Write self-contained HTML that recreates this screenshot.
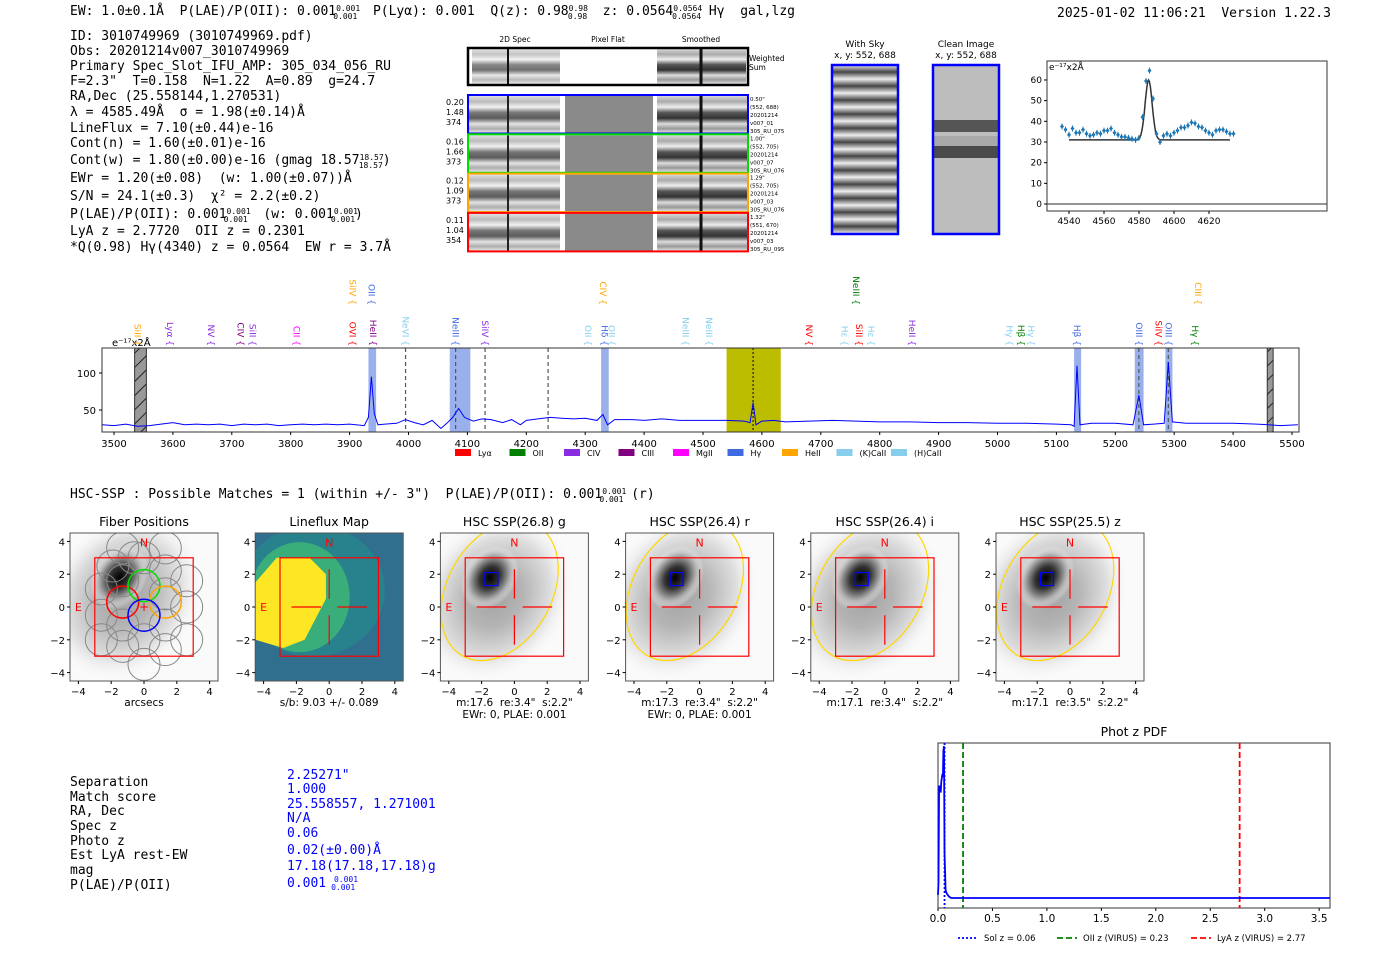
<!DOCTYPE html>
<html><head><meta charset="utf-8"><style>
body{margin:0;background:#fff;width:1400px;height:953px;overflow:hidden}
svg{display:block}
text{white-space:pre}
.mono{font-family:"DejaVu Sans Mono","Liberation Mono",monospace;font-size:13px;fill:#000}
.sans{font-family:"DejaVu Sans","Liberation Sans",sans-serif;fill:#000}
.tk{font-family:"DejaVu Sans","Liberation Sans",sans-serif;font-size:10px;fill:#000}
.bl{fill:#0000ff}
</style></head><body>
<svg id="root" width="1400" height="953" viewBox="0 0 1400 953">
<defs>
<linearGradient id="stripes" x1="0" y1="0" x2="0" y2="1">
<stop offset="0" stop-color="#d8d8d8"/><stop offset="0.15" stop-color="#aaa"/><stop offset="0.3" stop-color="#eee"/><stop offset="0.45" stop-color="#555"/><stop offset="0.6" stop-color="#333"/><stop offset="0.75" stop-color="#ddd"/><stop offset="0.88" stop-color="#999"/><stop offset="1" stop-color="#e6e6e6"/>
</linearGradient>
<linearGradient id="sky" x1="0" y1="0" x2="0" y2="1" spreadMethod="repeat" gradientTransform="scale(1,0.083)">
<stop offset="0" stop-color="#eee"/><stop offset="0.5" stop-color="#444"/><stop offset="1" stop-color="#eee"/>
</linearGradient>
<radialGradient id="gal" cx="0.5" cy="0.5" r="0.5"><stop offset="0" stop-color="#000"/><stop offset="0.35" stop-color="#333"/><stop offset="0.7" stop-color="#aaa"/><stop offset="1" stop-color="#fff" stop-opacity="0"/></radialGradient>
<pattern id="hatch" width="10" height="10" patternUnits="userSpaceOnUse" patternTransform="rotate(-45)"><rect width="10" height="10" fill="#999"/><line x1="0" y1="5" x2="10" y2="5" stroke="#222" stroke-width="1"/></pattern>
</defs>

<g>
<text class="mono" x="70" y="15">EW: 1.0±0.1Å  P(LAE)/P(OII): 0.001<tspan font-size="8" dy="-4">0.001</tspan><tspan font-size="8" dx="-27" dy="8">0.001</tspan><tspan dy="-4">  P(Lyα): 0.001  Q(z): 0.98</tspan><tspan font-size="8" dy="-4">0.98</tspan><tspan font-size="8" dx="-20" dy="8">0.98</tspan><tspan dy="-4">  z: 0.0564</tspan><tspan font-size="8" dy="-4">0.0564</tspan><tspan font-size="8" dx="-30" dy="8">0.0564</tspan><tspan dy="-4"> Hγ  gal,lzg</tspan></text>
<text class="mono" x="1057" y="17">2025-01-02 11:06:21  Version 1.22.3</text>
</g>

<g>
<text class="mono" x="70" y="40">ID: 3010749969 (3010749969.pdf)</text>
<text class="mono" x="70" y="55">Obs: 20201214v007_3010749969</text>
<text class="mono" x="70" y="70">Primary Spec_Slot_IFU_AMP: 305_034_056_RU</text>
<text class="mono" x="70" y="85">F=2.3"  T=0.158  N=1.22  A=0.89  g=24.7</text>
<text class="mono" x="70" y="100">RA,Dec (25.558144,1.270531)</text>
<text class="mono" x="70" y="116">λ = 4585.49Å  σ = 1.98(±0.14)Å</text>
<text class="mono" x="70" y="132">LineFlux = 7.10(±0.44)e-16</text>
<text class="mono" x="70" y="147">Cont(n) = 1.60(±0.01)e-16</text>
<text class="mono" x="70" y="164">Cont(w) = 1.80(±0.00)e-16 (gmag 18.57<tspan font-size="8" dy="-4">18.57</tspan><tspan font-size="8" dx="-25" dy="8">18.57</tspan><tspan dy="-4">)</tspan></text>
<text class="mono" x="70" y="182">EWr = 1.20(±0.08)  (w: 1.00(±0.07))Å</text>
<text class="mono" x="70" y="200">S/N = 24.1(±0.3)  χ² = 2.2(±0.2)</text>
<text class="mono" x="70" y="218">P(LAE)/P(OII): 0.001<tspan font-size="8" dy="-4">0.001</tspan><tspan font-size="8" dx="-27" dy="8">0.001</tspan><tspan dy="-4">  (w: 0.001</tspan><tspan font-size="8" dy="-4">0.001</tspan><tspan font-size="8" dx="-27" dy="8">0.001</tspan><tspan dy="-4">)</tspan></text>
<text class="mono" x="70" y="235">LyA z = 2.7720  OII z = 0.2301</text>
<text class="mono" x="70" y="251">*Q(0.98) Hγ(4340) z = 0.0564  EW r = 3.7Å</text>
</g>

<g id="spec2d">
<text class="sans" style="font-size:7.5px" x="515" y="42" text-anchor="middle">2D Spec</text>
<text class="sans" style="font-size:7.5px" x="608" y="42" text-anchor="middle">Pixel Flat</text>
<text class="sans" style="font-size:7.5px" x="701" y="42" text-anchor="middle">Smoothed</text>
<rect x="472" y="49" width="88" height="35" fill="url(#stripes)" opacity="0.7"/>
<rect x="657" y="49" width="89" height="35" fill="url(#stripes)"/>
<line x1="508" y1="49" x2="508" y2="84" stroke="#111" stroke-width="2"/>
<line x1="701" y1="49" x2="701" y2="84" stroke="#111" stroke-width="3"/>
<rect x="468" y="48" width="280" height="37" fill="none" stroke="#000" stroke-width="2.5"/>
<text class="sans" style="font-size:7.5px" x="749" y="61">Weighted</text><text class="sans" style="font-size:7.5px" x="749" y="70">Sum</text>
</g>

<g>
<text class="sans" style="font-size:9px" x="865" y="47" text-anchor="middle">With Sky</text>
<text class="sans" style="font-size:9px" x="865" y="58" text-anchor="middle">x, y: 552, 688</text>
<rect x="832" y="65" width="66" height="169" fill="url(#sky)"/>
<rect x="832" y="65" width="66" height="169" fill="none" stroke="#0000ff" stroke-width="2.5"/>
</g>
<g>
<text class="sans" style="font-size:9px" x="966" y="47" text-anchor="middle">Clean Image</text>
<text class="sans" style="font-size:9px" x="966" y="58" text-anchor="middle">x, y: 552, 688</text>
<rect x="933" y="65" width="66" height="169" fill="#bdbdbd"/>
<rect x="933" y="120" width="66" height="12" fill="#555"/>
<rect x="933" y="136" width="66" height="10" fill="#a8a8a8"/>
<rect x="933" y="146" width="66" height="12" fill="#4a4a4a"/>
<rect x="933" y="65" width="66" height="169" fill="none" stroke="#0000ff" stroke-width="2.5"/>
</g>

<g id="zoomplot"></g>
<g id="specplot"></g>

<text class="mono" x="70" y="498">HSC-SSP : Possible Matches = 1 (within +/- 3")  P(LAE)/P(OII): 0.001<tspan font-size="8" dy="-4">0.001</tspan><tspan font-size="8" dx="-27" dy="8">0.001</tspan><tspan dy="-4"> (r)</tspan></text>

<g id="cutouts"></g>

<g>
<text class="mono" x="70" y="786">Separation</text><text class="mono bl" x="287" y="779">2.25271"</text>
<text class="mono" x="70" y="801">Match score</text><text class="mono bl" x="287" y="793">1.000</text>
<text class="mono" x="70" y="815">RA, Dec</text><text class="mono bl" x="287" y="808">25.558557, 1.271001</text>
<text class="mono" x="70" y="830">Spec z</text><text class="mono bl" x="287" y="822">N/A</text>
<text class="mono" x="70" y="845">Photo z</text><text class="mono bl" x="287" y="837">0.06</text>
<text class="mono" x="70" y="859">Est LyA rest-EW</text><text class="mono bl" x="287" y="854">0.02(±0.00)Å</text>
<text class="mono" x="70" y="874">mag</text><text class="mono bl" x="287" y="870">17.18(17.18,17.18)g</text>
<text class="mono" x="70" y="889">P(LAE)/P(OII)</text><text class="mono bl" x="287" y="887">0.001 <tspan font-size="8" dy="-5">0.001</tspan><tspan font-size="8" dx="-27" dy="8">0.001</tspan></text>
</g>

<g id="photz"></g>
</svg>

<script>
// ---------- line-fit plot data ----------
const fitWave = [4536,4538,4540,4542,4544,4546,4548,4550,4552,4554,4556,4558,4560,4562,4564,4566,4568,4570,4572,4574,4576,4578,4580,4582,4584,4586,4588,4590,4592,4594,4596,4598,4600,4602,4604,4606,4608,4610,4612,4614,4616,4618,4620,4622,4624,4626,4628,4630,4632,4634];
const fitFlux = [37.5,36,33.5,36.5,34.5,34.5,36,34,33,33.5,34.5,34,35.5,35.5,36.5,34.5,33.5,32.5,32.5,32,31.5,31,32,42,59.5,64.5,51,34,30,33,34,33,34.5,35.5,37,37,38,39.5,39,37.5,37,35.5,34.5,33.5,35.5,36,36,35,34,34];
const fitTicksX = [4540,4560,4580,4600,4620];
const fitTicksY = [0,10,20,30,40,50,60];
const fitModel = {center:4585.5, sigma:2.0, amp:29, base:31, start:4540, end:4632};

// ---------- spectrum data ----------
const specWave = [3480,3500,3520,3540,3560,3580,3600,3620,3640,3660,3680,3700,3720,3740,3760,3780,3800,3820,3840,3860,3880,3900,3925,3932,3937,3942,3948,3960,3980,3995,4010,4025,4040,4055,4065,4075,4085,4095,4110,4125,4140,4160,4175,4190,4200,4220,4240,4260,4280,4300,4320,4330,4338,4350,4380,4400,4430,4460,4500,4540,4570,4580,4585,4590,4600,4620,4640,4680,4720,4760,4800,4850,4900,4950,5000,5050,5100,5125,5130,5135,5140,5160,5200,5230,5240,5248,5265,5283,5290,5297,5320,5360,5400,5440,5460,5480,5510];
const specFlux = [30,29,31,28,29,31,33,30,31,30,31,29,31,30,31,29,30,31,30,31,30,31,29,40,95,45,30,31,32,37,33,30,36,25,32,40,52,40,35,38,37,33,37,30,36,38,40,39,38,39,36,44,30,37,37,36,38,36,36,36,35,33,60,30,35,36,34,35,36,35,34,34,33,33,32,32,31,30,28,110,30,32,32,30,70,30,31,32,115,34,32,32,32,31,30,29,30];
const specTicksX = [3500,3600,3700,3800,3900,4000,4100,4200,4300,4400,4500,4600,4700,4800,4900,5000,5100,5200,5300,5400,5500];
const specTicksY = [50,100];
const blueBands = [[3932,3945],[4070,4105],[4327,4340],[5130,5142],[5233,5248],[5285,5297]];
const greyBands = [[3535,3555],[5458,5468]];
const dashLines = [3995,4080,4130,4237,5240,5290];
const lineLabels = [["SiII",3540,"#ffa500",0],["Lyα",3595,"#8a2be2",0],["NV",3665,"#8a2be2",0],["CIV",3715,"#800080",0],["SiII",3735,"#8a2be2",0],["CII",3810,"#ff00ff",0],["OVI",3905,"#ff0000",0],["HeII",3940,"#800080",0],["NeVI",3995,"#87ceeb",0],["NeIII",4080,"#4169e1",0],["SiIV",4130,"#8a2be2",0],["OII",4305,"#87ceeb",0],["Hδ",4333,"#4169e1",0],["OII",4345,"#87ceeb",0],["NeIII",4470,"#87ceeb",0],["NeIII",4510,"#87ceeb",0],["NV",4680,"#ff0000",0],["Hε",4740,"#87ceeb",0],["SiII",4765,"#ff0000",0],["Hε",4785,"#87ceeb",0],["HeII",4855,"#8a2be2",0],["Hγ",5020,"#87ceeb",0],["Hβ",5040,"#008000",0],["Hγ",5057,"#87ceeb",0],["Hβ",5135,"#4169e1",0],["OIII",5240,"#4169e1",0],["SiIV",5273,"#ff0000",0],["OIII",5290,"#4169e1",0],["Hγ",5335,"#008000",0],["SiIV",3905,"#ffa500",1],["OII",3937,"#4169e1",1],["CIV",4330,"#ffa500",1],["NeIII",4760,"#008000",1],["CIII",5340,"#ffa500",1]];
const legendNames = ["Lyα","OII","CIV","CIII","MgII","Hγ","HeII","(K)CaII","(H)CaII"];
const legendColors = ["#ff0000","#008000","#8a2be2","#800080","#ff00ff","#4169e1","#ffa500","#87ceeb","#87ceeb"];

// ---------- phot z data ----------
const pzZ = [0.0,0.005,0.01,0.02,0.025,0.03,0.04,0.045,0.05,0.055,0.06,0.07,0.08,0.1,0.12,0.15,0.2,0.5,1,2,3,3.6];
const pzP = [0.02,0.1,0.72,0.72,0.68,0.75,0.8,0.78,0.95,0.98,0.3,0.05,0.03,0.01,0.0,0.0,0.0,0.0,0.0,0.0,0.0,0.0];
const pzTicks = [0.0,0.5,1.0,1.5,2.0,2.5,3.0,3.5];
const pzMarkers = [["Sol z = 0.06",0.06,"#0000ff","2,2"],["OII z (VIRUS) = 0.23",0.23,"#008000","6,3"],["LyA z (VIRUS) = 2.77",2.77,"#ff0000","6,3"]];

const NS="http://www.w3.org/2000/svg";
function mk(parent,tag,attrs,txt){const e=document.createElementNS(NS,tag);let st='';for(const k in attrs){if(k==='font-size'){st+='font-size:'+attrs[k]+'px;';}else if(k==='style'){st+=attrs[k]+';';}else e.setAttribute(k,attrs[k]);}if(st)e.setAttribute('style',st);if(txt!==undefined)e.textContent=txt;parent.appendChild(e);return e;}

// ===== line-fit plot =====
(function(){
const g=document.getElementById('zoomplot');
const L=1047,R=1327,T=61,B=211;
const xs=w=>1069+(w-4540)*1.75;
const ys=v=>204-v*2.067;
mk(g,'rect',{x:L,y:T,width:R-L,height:B-T,fill:'#fff',stroke:'#333','stroke-width':1});
mk(g,'line',{x1:L,x2:R,y1:ys(0),y2:ys(0),stroke:'#555','stroke-width':1.2});
fitTicksX.forEach(t=>{mk(g,'line',{x1:xs(t),x2:xs(t),y1:B,y2:B+3,stroke:'#000'});const e=mk(g,'text',{x:xs(t),y:B+13,'text-anchor':'middle',class:'tk','font-size':9},t);

});
fitTicksY.forEach(t=>{mk(g,'line',{x1:L-3,x2:L,y1:ys(t),y2:ys(t),stroke:'#000'});const e=mk(g,'text',{x:L-5,y:ys(t)+3,'text-anchor':'end',class:'tk','font-size':9},t);

});
mk(g,'text',{x:L+2,y:T+9,class:'tk','font-size':9},'e⁻¹⁷x2Å');
let d='';for(let w=fitModel.start;w<=fitModel.end;w+=0.5){const v=fitModel.base+fitModel.amp*Math.exp(-0.5*((w-fitModel.center)/fitModel.sigma)**2);d+=(d?'L':'M')+xs(w).toFixed(1)+','+ys(v).toFixed(1);}
const m=mk(g,'path',{d:d,fill:'none',stroke:'#333','stroke-width':1.5});


fitWave.forEach((w,i)=>{const x=xs(w),y=ys(fitFlux[i]);
mk(g,'line',{x1:x,x2:x,y1:y-3,y2:y+3,stroke:'#1f77b4','stroke-width':1});
const p=mk(g,'path',{d:`M${x},${y-2.5}L${x+2},${y}L${x},${y+2.5}L${x-2},${y}Z`,fill:'#1f77b4'});

});
})();

// ===== spectrum =====
(function(){
const g=document.getElementById('specplot');
const L=102,R=1299,T=348,B=432;
const xs=w=>114+(w-3500)*0.589;
const ys=v=>B-(v-20.3)*0.74;
mk(g,'rect',{x:L,y:T,width:R-L,height:B-T,fill:'#fff'});
mk(g,'rect',{x:xs(4540),y:T,width:xs(4632)-xs(4540),height:B-T,fill:'#bdbd00'});
blueBands.forEach(b=>{const r=mk(g,'rect',{x:xs(b[0]),y:T,width:xs(b[1])-xs(b[0]),height:B-T,fill:'#6f8fe6',opacity:0.7});

});
greyBands.forEach(b=>{const r=mk(g,'rect',{x:xs(b[0]),y:T,width:xs(b[1])-xs(b[0]),height:B-T,fill:'url(#hatch)',stroke:'#333'});

});
dashLines.forEach(w=>mk(g,'line',{x1:xs(w),x2:xs(w),y1:T,y2:B,stroke:'#555','stroke-dasharray':'4,3','stroke-width':1.2}));
mk(g,'line',{x1:xs(4585),x2:xs(4585),y1:T,y2:B,stroke:'#000','stroke-dasharray':'2,2','stroke-width':1});
let d='';specWave.forEach((w,i)=>{d+=(i?'L':'M')+xs(w).toFixed(1)+','+ys(specFlux[i]).toFixed(1);});
const p=mk(g,'path',{d:d,fill:'none',stroke:'#0000ff','stroke-width':1});


mk(g,'rect',{x:L,y:T,width:R-L,height:B-T,fill:'none',stroke:'#333','stroke-width':1});
specTicksX.forEach(t=>{mk(g,'line',{x1:xs(t),x2:xs(t),y1:B,y2:B+3,stroke:'#000'});const e=mk(g,'text',{x:xs(t),y:B+15,'text-anchor':'middle',class:'tk'},t);

});
specTicksY.forEach(t=>{mk(g,'line',{x1:L-3,x2:L,y1:ys(t),y2:ys(t),stroke:'#000'});const e=mk(g,'text',{x:L-6,y:ys(t)+4,'text-anchor':'end',class:'tk'},t);

});
mk(g,'text',{x:112,y:346,class:'tk'},'e⁻¹⁷x2Å');
lineLabels.forEach(l=>{const x=xs(l[1]);const yb=l[3]?305:346;
const t=mk(g,'text',{x:0,y:0,transform:`translate(${x-3},${yb}) rotate(90)`,'text-anchor':'end',class:'tk','font-size':9,style:`fill:${l[2]}`},l[0]+' {');

});
legendNames.forEach((n,i)=>{const x=455+i*54.5;
const s=mk(g,'rect',{x:x,y:449,width:16,height:7,fill:legendColors[i]});


mk(g,'text',{x:x+23,y:456,class:'tk','font-size':8},n);});
})();

// ===== cutouts =====
(function(){
const g=document.getElementById('cutouts');
const titles=["Fiber Positions","Lineflux Map","HSC SSP(26.8) g","HSC SSP(26.4) r","HSC SSP(26.4) i","HSC SSP(25.5) z"];
const sub1=["arcsecs","s/b: 9.03 +/- 0.089","m:17.6  re:3.4\"  s:2.2\"","m:17.3  re:3.4\"  s:2.2\"","m:17.1  re:3.4\"  s:2.2\"","m:17.1  re:3.5\"  s:2.2\""];
const sub2=["","","EWr: 0, PLAE: 0.001","EWr: 0, PLAE: 0.001","",""];
const ticks=[-4,-2,0,2,4];
const fibers=[[-1.3,3.6],[0,3.0],[1.3,3.6],[-1.9,2.5],[-0.6,3.0],[1.3,2.2],[-2.6,1.1],[2.6,1.6],[-2.6,-0.5],[2.6,0],[-1.3,-1.1],[1.3,-1.1],[-2.6,-2.0],[-1.3,-2.4],[0,-2.0],[1.3,-2.6],[2.6,-2.0],[0,-3.5],[-1.3,1.6],[1.3,0.8]];
for(let p=0;p<6;p++){
const L=70+p*185.2,T=533,S=148;
const xs=v=>L+S/2+v*16.4, ys=v=>T+S/2-v*16.4;
const pg=mk(g,'g',{});


const cid='clip'+p;const cp=mk(pg,'clipPath',{id:cid});mk(cp,'rect',{x:L,y:T,width:S,height:S});
const ig=mk(pg,'g',{'clip-path':`url(#${cid})`});
if(p==1){
mk(ig,'rect',{x:L,y:T,width:S,height:S,fill:'#30708e'});
mk(ig,'ellipse',{cx:xs(-1),cy:ys(1),rx:72,ry:66,fill:'#27848e',opacity:0.9});
mk(ig,'ellipse',{cx:xs(-1.8),cy:ys(0.6),rx:50,ry:55,fill:'#3aae7a'});
mk(ig,'polygon',{points:[[-4.5,1.5],[-3.2,3.0],[-1.2,3.0],[-0.2,2.0],[-0.2,0.5],[-1.5,-2.0],[-2.8,-2.5],[-4.5,-2.0]].map(q=>xs(q[0])+','+ys(q[1])).join(' '),fill:'#fde725'});
} else {
mk(ig,'rect',{x:L,y:T,width:S,height:S,fill:'#fafafa'});
mk(ig,'ellipse',{cx:xs(-1.2),cy:ys(0.6),rx:75,ry:90,fill:'url(#gal)',opacity:0.35,transform:`rotate(35 ${xs(-1.2)} ${ys(0.6)})`});
mk(ig,'ellipse',{cx:xs(-1.5),cy:ys(1.8),rx:26,ry:34,fill:'url(#gal)',transform:`rotate(35 ${xs(-1.5)} ${ys(1.8)})`});
}
if(p==0){
fibers.forEach(f=>mk(ig,'circle',{cx:xs(f[0]),cy:ys(f[1]),r:16,fill:'none',stroke:'#888','stroke-width':1}));
[[-1.3,0.3,'#ff0000'],[0,1.3,'#00dd00'],[1.3,0.3,'#ffa500'],[0,-0.5,'#0000ff']].forEach(f=>mk(ig,'circle',{cx:xs(f[0]),cy:ys(f[1]),r:16,fill:'none',stroke:f[2],'stroke-width':1.5}));
mk(ig,'text',{x:xs(0),y:ys(0)+4,'text-anchor':'middle',class:'tk','font-size':12,style:'fill:#f00'},'+');
}
if(p>=2){
mk(ig,'ellipse',{cx:xs(-0.9),cy:ys(1.0),rx:52,ry:75,fill:'none',stroke:'#ffd700','stroke-width':1.2,transform:`rotate(30 ${xs(-0.9)} ${ys(1.0)})`});
mk(ig,'rect',{x:xs(-1.8),y:ys(2.1),width:13,height:13,fill:'none',stroke:'#0000ff','stroke-width':1.2});
}
mk(ig,'rect',{x:xs(-3),y:ys(3),width:6*16.4,height:6*16.4,fill:'none',stroke:'#ff0000','stroke-width':1.2});
if(p>=1){[[-2.3,0,-0.5,0],[0.5,0,2.3,0],[0,2.3,0,0.5],[0,-0.5,0,-2.3]].forEach(c=>mk(ig,'line',{x1:xs(c[0]),y1:ys(c[1]),x2:xs(c[2]),y2:ys(c[3]),stroke:'#ff0000','stroke-width':1.2}));}
mk(ig,'text',{x:xs(0),y:ys(4)+5,'text-anchor':'middle',class:'tk','font-size':11,style:'fill:#f00'},'N');
mk(ig,'text',{x:xs(-4),y:ys(0)+4,'text-anchor':'middle',class:'tk','font-size':11,style:'fill:#f00'},'E');
mk(pg,'rect',{x:L,y:T,width:S,height:S,fill:'none',stroke:'#555','stroke-width':1});
ticks.forEach(t=>{mk(pg,'line',{x1:xs(t),x2:xs(t),y1:T+S,y2:T+S+3,stroke:'#000'});mk(pg,'text',{x:xs(t),y:T+S+14,'text-anchor':'middle',class:'tk'},t<0?'−'+(-t):t);
mk(pg,'line',{x1:L-3,x2:L,y1:ys(t),y2:ys(t),stroke:'#000'});mk(pg,'text',{x:L-5,y:ys(t)+4,'text-anchor':'end',class:'tk'},t<0?'−'+(-t):t);});
mk(pg,'text',{x:L+S/2,y:T-7,'text-anchor':'middle',class:'sans','font-size':12.5},titles[p]);
mk(pg,'text',{x:L+S/2,y:T+S+25,'text-anchor':'middle',class:'tk','font-size':10.5},sub1[p]);
if(sub2[p])mk(pg,'text',{x:L+S/2,y:T+S+37,'text-anchor':'middle',class:'tk','font-size':10.5},sub2[p]);
}
})();

// ===== 2D spectra rows =====
(function(){
const g=document.getElementById('spec2d');
const rows=[["#0000ff",["0.20","1.48","374"],["0.50\"","(552, 688)","20201214","v007_01","305_RU_075"]],["#00dd00",["0.16","1.66","373"],["1.00\"","(552, 705)","20201214","v007_07","305_RU_076"]],["#ffa500",["0.12","1.09","373"],["1.29\"","(552, 705)","20201214","v007_03","305_RU_076"]],["#ff0000",["0.11","1.04","354"],["1.32\"","(551, 670)","20201214","v007_03","305_RU_095"]]];
rows.forEach((r,i)=>{const T=96+i*39.3,H=37;
const rg=mk(g,'g',{});


mk(rg,'rect',{x:469,y:T,width:91,height:H,fill:'url(#stripes)',opacity:0.8});
mk(rg,'rect',{x:565,y:T,width:88,height:H,fill:'#8a8a8a'});
mk(rg,'rect',{x:657,y:T,width:90,height:H,fill:'url(#stripes)'});
mk(rg,'line',{x1:508,x2:508,y1:T,y2:T+H,stroke:'#222','stroke-width':2});
mk(rg,'line',{x1:701,x2:701,y1:T,y2:T+H,stroke:'#111','stroke-width':3});
mk(rg,'rect',{x:468,y:T-1,width:280,height:H+1.5,fill:'none',stroke:r[0],'stroke-width':2});
r[1].forEach((s,j)=>mk(rg,'text',{x:446,y:T+9+j*10,class:'tk','font-size':8},s));
r[2].forEach((s,j)=>mk(rg,'text',{x:750,y:T+5+j*8,class:'tk','font-size':5.5},s));
});
})();

// ===== phot z =====
(function(){
const g=document.getElementById('photz');
const L=938,R=1330,T=743,B=908;
const xs=z=>L+z*108.9, ys=p=>898-p*155;
mk(g,'rect',{x:L,y:T,width:R-L,height:B-T,fill:'#fff',stroke:'#333'});
mk(g,'text',{x:1134,y:736,'text-anchor':'middle',class:'sans','font-size':12.5},'Phot z PDF');
pzMarkers.forEach(m=>{const l=mk(g,'line',{x1:xs(m[1]),x2:xs(m[1]),y1:T,y2:B,stroke:m[2],'stroke-width':1.8,'stroke-dasharray':m[3]});

});
let d='';pzZ.forEach((z,i)=>{d+=(i?'L':'M')+Math.min(xs(z),R).toFixed(1)+','+ys(pzP[i]).toFixed(1);});
const p=mk(g,'path',{d:d,fill:'none',stroke:'#0000ff','stroke-width':1.8});


pzTicks.forEach(t=>{mk(g,'line',{x1:xs(t),x2:xs(t),y1:B,y2:B+3,stroke:'#000'});const e=mk(g,'text',{x:xs(t),y:B+14,'text-anchor':'middle',class:'tk','font-size':10.5},t.toFixed(1));

});
const lx=[958,1057,1191];
pzMarkers.forEach((m,i)=>{mk(g,'line',{x1:lx[i],x2:lx[i]+20,y1:938,y2:938,stroke:m[2],'stroke-width':1.8,'stroke-dasharray':m[3]});
const e=mk(g,'text',{x:lx[i]+26,y:941,class:'tk','font-size':8.5},m[0]);

});
})();
</script>
</body></html>
